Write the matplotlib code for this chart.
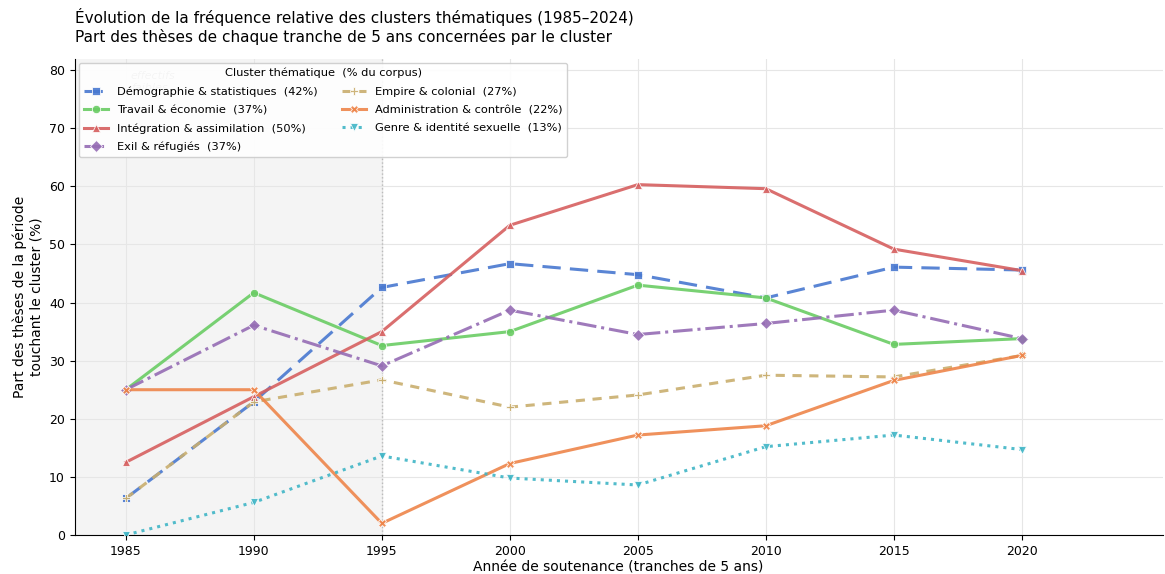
import matplotlib
matplotlib.use('Agg')
import matplotlib.pyplot as plt
import numpy as np

# Tranches de 5 ans
years = [1985, 1990, 1995, 2000, 2005, 2010, 2015, 2020]

demographie = [6.3, 22.9, 42.6, 46.7, 44.8, 40.8, 46.1, 45.6]
travail = [25.0, 41.7, 32.6, 35.0, 43.0, 40.8, 32.8, 33.8]
integration = [12.5, 23.8, 35.0, 53.3, 60.3, 59.6, 49.2, 45.5]
exil = [25.0, 36.1, 29.1, 38.7, 34.5, 36.4, 38.7, 33.8]
empire = [6.3, 22.9, 26.7, 22.0, 24.1, 27.5, 27.2, 30.9]
administration = [25.0, 25.0, 2.0, 12.3, 17.2, 18.8, 26.6, 30.9]
genre = [0.0, 5.6, 13.6, 9.8, 8.6, 15.2, 17.2, 14.7]

labels = [
    'Démographie & statistiques  (42%)',
    'Travail & économie  (37%)',
    'Intégration & assimilation  (50%)',
    'Exil & réfugiés  (37%)',
    'Empire & colonial  (27%)',
    'Administration & contrôle  (22%)',
    'Genre & identité sexuelle  (13%)',
]
series = [demographie, travail, integration, exil, empire, administration, genre]

colors = ['#4878D0', '#6ACC64', '#D65F5F', '#956CB4', '#C9AE6E', '#EE854A', '#3FB5C6']
markers = ['s', 'o', '^', 'D', 'P', 'X', 'v']
styles = [(0, (6, 3)), '-', '-', '-.', (0, (3, 2.5)), '-', ':']

fig, ax = plt.subplots(figsize=(11.65, 5.74), dpi=100)

ax.axvspan(1983, 1995, color='#f4f4f4', zorder=0)
ax.axvline(1995, color='#bbbbbb', ls=':', lw=1, zorder=1)
ax.text(1985.2, 79.8, 'effectifs\nfaibles', fontsize=8, style='italic',
        color='#999999', va='top', ha='left', zorder=1)

for vals, lab, c, m, ls in zip(series, labels, colors, markers, styles):
    ax.plot(years, vals, color=c, marker=m, ls=ls, lw=2.2, ms=6,
            mec='white', mew=0.6, alpha=0.9, label=lab, zorder=3)

ax.set_xlim(1983, 2025.5)
ax.set_ylim(0, 82)
ax.set_xticks(years)
ax.set_yticks(np.arange(0, 81, 10))
ax.tick_params(labelsize=9)
ax.grid(True, color='#e6e6e6', lw=0.8, zorder=0)
ax.set_axisbelow(True)
for s in ('top', 'right'):
    ax.spines[s].set_visible(False)

ax.set_xlabel('Année de soutenance (tranches de 5 ans)', fontsize=10, labelpad=2)
ax.set_ylabel('Part des thèses de la période\ntouchant le cluster (%)', fontsize=10)
ax.set_title('Évolution de la fréquence relative des clusters thématiques (1985–2024)\n'
             'Part des thèses de chaque tranche de 5 ans concernées par le cluster',
             loc='left', fontsize=11, pad=12)

leg = ax.legend(title='Cluster thématique  (% du corpus)', ncol=2, loc='upper left',
                fontsize=8.2, title_fontsize=8.2, framealpha=0.9, handlelength=2.1,
                columnspacing=2.2, borderaxespad=0.4, labelspacing=0.72)

plt.subplots_adjust(left=0.064, right=0.998, top=0.898, bottom=0.068)
plt.savefig('out.png', dpi=100)
plt.close()
